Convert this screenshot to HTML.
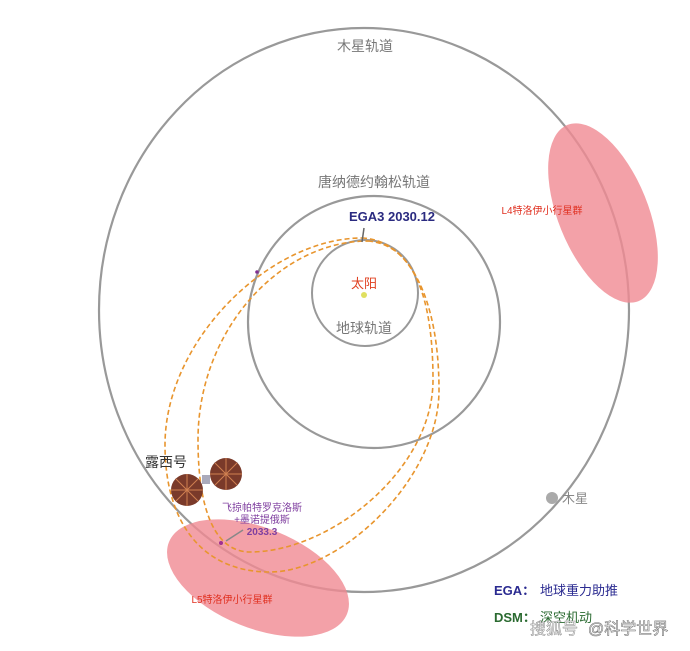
<!DOCTYPE html>
<html><head><meta charset="utf-8"><style>
body{margin:0;background:#fff;width:690px;height:646px;overflow:hidden}
svg text{font-family:"Liberation Sans","Noto Sans CJK SC",sans-serif}
</style></head><body>
<svg width="690" height="646" viewBox="0 0 690 646" xmlns="http://www.w3.org/2000/svg">
<ellipse cx="364" cy="310" rx="265" ry="282" fill="none" stroke="#999" stroke-width="2.2"/>
<circle cx="374" cy="322" r="126" fill="none" stroke="#999" stroke-width="2.2"/>
<circle cx="365" cy="293" r="53" fill="none" stroke="#999" stroke-width="2"/>
<ellipse cx="603" cy="213" rx="45" ry="95" transform="rotate(-22 603 213)" fill="#f08a92" opacity="0.8"/>
<ellipse cx="258" cy="578" rx="96" ry="50" transform="rotate(22 258 578)" fill="#f08a92" opacity="0.8"/>
<path d="M362,238 C410,240 439,300 439,390 C439,480 340,572 270,572 C200,572 165,520 165,445 C165,340 270,238 362,238 Z" fill="none" stroke="#e8952e" stroke-width="1.6" stroke-dasharray="5,3"/>
<path d="M368,241 C415,245 433,300 433,380 C433,470 330,552 250,552 C215,552 198,510 198,440 C198,330 280,241 368,241 Z" fill="none" stroke="#e8952e" stroke-width="1.6" stroke-dasharray="5,3"/>
<circle cx="364" cy="295" r="3" fill="#e0e060"/>
<circle cx="552" cy="498" r="6" fill="#aaa"/>
<circle cx="221" cy="543" r="2" fill="#a03090"/>
<circle cx="257" cy="272" r="1.8" fill="#803090"/>
<line x1="243" y1="530" x2="226" y2="541" stroke="#888" stroke-width="1.5"/>
<line x1="364" y1="228" x2="362" y2="242" stroke="#666" stroke-width="1.5"/>
<g>
<circle cx="187" cy="490" r="16" fill="#7a3a2a"/>
<circle cx="226" cy="474" r="16" fill="#7a3a2a"/>
<g stroke="#d08050" stroke-width="1">
<line x1="171" y1="490" x2="203" y2="490"/><line x1="187" y1="474" x2="187" y2="506"/>
<line x1="176" y1="479" x2="198" y2="501"/><line x1="198" y1="479" x2="176" y2="501"/>
<line x1="210" y1="474" x2="242" y2="474"/><line x1="226" y1="458" x2="226" y2="490"/>
<line x1="215" y1="463" x2="237" y2="485"/><line x1="237" y1="463" x2="215" y2="485"/>
</g>
<rect x="202" y="475" width="8" height="9" fill="#aab"/>
</g>
<text x="365" y="51" font-size="14" fill="#777" text-anchor="middle">木星轨道</text>
<text x="374" y="187" font-size="14" fill="#777" text-anchor="middle">唐纳德约翰松轨道</text>
<text x="392" y="221" font-size="13" fill="#2a2a80" font-weight="bold" text-anchor="middle">EGA3 2030.12</text>
<text x="364" y="288" font-size="13" fill="#e04020" text-anchor="middle">太阳</text>
<text x="364" y="333" font-size="14" fill="#777" text-anchor="middle">地球轨道</text>
<text x="542" y="214" font-size="10" fill="#e03020" text-anchor="middle">L4特洛伊小行星群</text>
<text x="232" y="603" font-size="10" fill="#e03020" text-anchor="middle">L5特洛伊小行星群</text>
<text x="145" y="467" font-size="14" fill="#333">露西号</text>
<text x="262" y="511" font-size="10" fill="#8040a0" text-anchor="middle">飞掠帕特罗克洛斯</text>
<text x="262" y="523" font-size="10" fill="#8040a0" text-anchor="middle">+墨诺提俄斯</text>
<text x="262" y="535" font-size="10" fill="#8040a0" font-weight="bold" text-anchor="middle">2033.3</text>
<text x="562" y="503" font-size="13" fill="#888">木星</text>
<text x="494" y="595" font-size="13" fill="#2a2a90" font-weight="bold">EGA：</text>
<text x="540" y="595" font-size="13" fill="#2a2a90">地球重力助推</text>
<text x="494" y="622" font-size="13" fill="#2a6a30" font-weight="bold">DSM：</text>
<text x="540" y="622" font-size="13" fill="#2a6a30">深空机动</text>
<text x="530" y="634" font-size="16" fill="#fff" stroke="#888" stroke-width="0.5">搜狐号</text>
<text x="588" y="634" font-size="16" fill="#fff" stroke="#777" stroke-width="0.6">@科学世界</text>
</svg>
</body></html>
